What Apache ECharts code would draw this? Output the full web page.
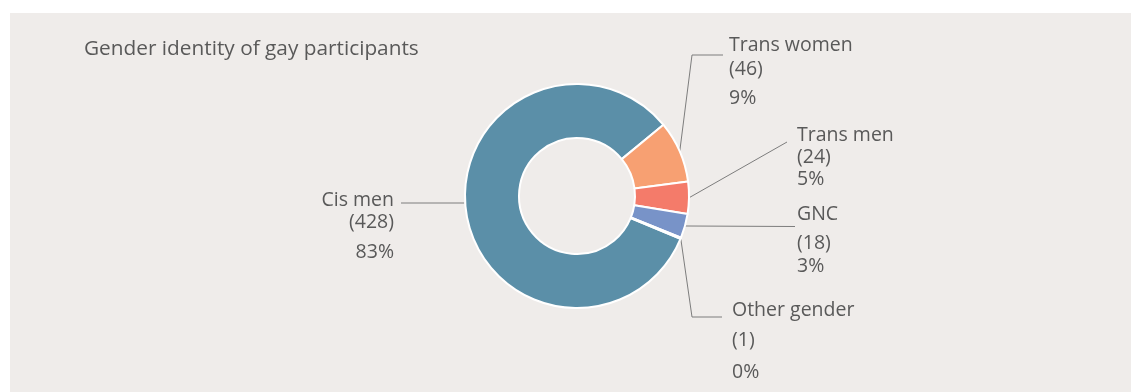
<!DOCTYPE html>
<html>
<head>
<meta charset="utf-8">
<script src="https://cdn.jsdelivr.net/npm/echarts@6/dist/echarts.min.js"></script>
<style>
  html, body { margin: 0; padding: 0; background: #ffffff; }
  #chart { width: 1131px; height: 392px; }
</style>
</head>
<body>
<div id="chart"></div>
<script>
// Participants by gender identity
const categories = ['Cis men', 'Trans women', 'Trans men', 'GNC', 'Other gender'];
const counts = [428, 46, 24, 18, 1];

const sliceColors = ['#5b8fa8', '#f7a072', '#f47b6a', '#7893c8', '#b9b9b9'];

// Donut geometry (px)
const pieCenter = [577, 196];
const innerR = 58;
const outerR = 112;

// Label block placement: x is the left edge (right edge for side 'left'),
// top is the block top, lines are the three line heights.
// Leader line: gap to text, dy below the first line's middle, elbow length.
const labelPlacement = {
  'Cis men':      { side: 'left',  x: 394, top: 189, lines: [22, 22, 38], gap: 7,  dy: 3,  elbow: 0,  flat: true },
  'Trans women':  { side: 'right', x: 729, top: 33,  lines: [24, 24, 34], gap: 6,  dy: 10, elbow: 31 },
  'Trans men':    { side: 'right', x: 797, top: 124, lines: [22, 23, 21], gap: 10, dy: 7,  elbow: 0 },
  'GNC':          { side: 'right', x: 797, top: 197, lines: [35, 23, 23], gap: 2,  dy: 12, elbow: 0 },
  'Other gender': { side: 'right', x: 732, top: 295, lines: [30, 30, 34], gap: 10, dy: 7,  elbow: 30 }
};

const total = counts.reduce((a, b) => a + b, 0);
const textColor = '#595959';
const fontFamily = '"Open Sans", Lato, sans-serif';

function richFor(name) {
  const p = labelPlacement[name];
  const align = p.side === 'left' ? 'right' : 'left';
  const base = { fontSize: 19.5, color: textColor, fontFamily: fontFamily, align: align };
  return {
    n: Object.assign({}, base, { lineHeight: p.lines[0] }),
    c: Object.assign({}, base, { lineHeight: p.lines[1] }),
    p: Object.assign({}, base, { lineHeight: p.lines[2] })
  };
}

const pieData = categories.map((name, i) => ({
  name: name,
  value: counts[i],
  itemStyle: { color: sliceColors[i] },
  label: { rich: richFor(name) }
}));

const chart = echarts.init(document.getElementById('chart'), null, { renderer: 'canvas' });

chart.setOption({
  backgroundColor: '#ffffff',
  animation: false,
  graphic: [{
    type: 'rect',
    z: -10,
    silent: true,
    shape: { x: 10, y: 13, width: 1121, height: 379 },
    style: { fill: '#efecea' }
  }],
  title: {
    text: 'Gender identity of gay participants',
    left: 84,
    top: 39,
    padding: 0,
    textStyle: { fontSize: 20.8, fontWeight: 'normal', color: textColor, fontFamily: fontFamily }
  },
  series: [{
    type: 'pie',
    center: pieCenter,
    radius: [innerR, outerR],
    startAngle: 337.5,
    clockwise: true,
    avoidLabelOverlap: false,
    itemStyle: { borderColor: '#ffffff', borderWidth: 2 },
    emphasis: { disabled: true },
    label: {
      show: true,
      position: 'outside',
      formatter: function (params) {
        const pct = Math.round(params.value / total * 100);
        return '{n|' + params.name + '}\n{c|(' + params.value + ')}\n{p|' + pct + '%}';
      }
    },
    labelLine: {
      show: true,
      length: 10,
      length2: 10,
      lineStyle: { color: '#7d7d7d', width: 1 }
    },
    labelLayout: function (params) {
      const p = labelPlacement[categories[params.dataIndex]];
      const w = params.labelRect.width;
      const left = p.side === 'left' ? p.x - w : p.x;
      const lineY = p.top + p.lines[0] / 2 + p.dy;
      const endX = p.side === 'left' ? left + w + p.gap : left - p.gap;
      const elbowX = p.side === 'left' ? endX + p.elbow : endX - p.elbow;
      let start = params.labelLinePoints ? params.labelLinePoints[0].slice() : [elbowX, lineY];
      if (p.flat) {
        const dy = lineY - pieCenter[1];
        const r = outerR + 1;
        start = [pieCenter[0] - Math.sqrt(r * r - dy * dy), lineY];
      }
      return {
        x: left,
        y: p.top,
        align: 'left',
        verticalAlign: 'top',
        labelLinePoints: [start, [elbowX, lineY], [endX, lineY]]
      };
    },
    data: pieData
  }]
});
</script>
</body>
</html>
